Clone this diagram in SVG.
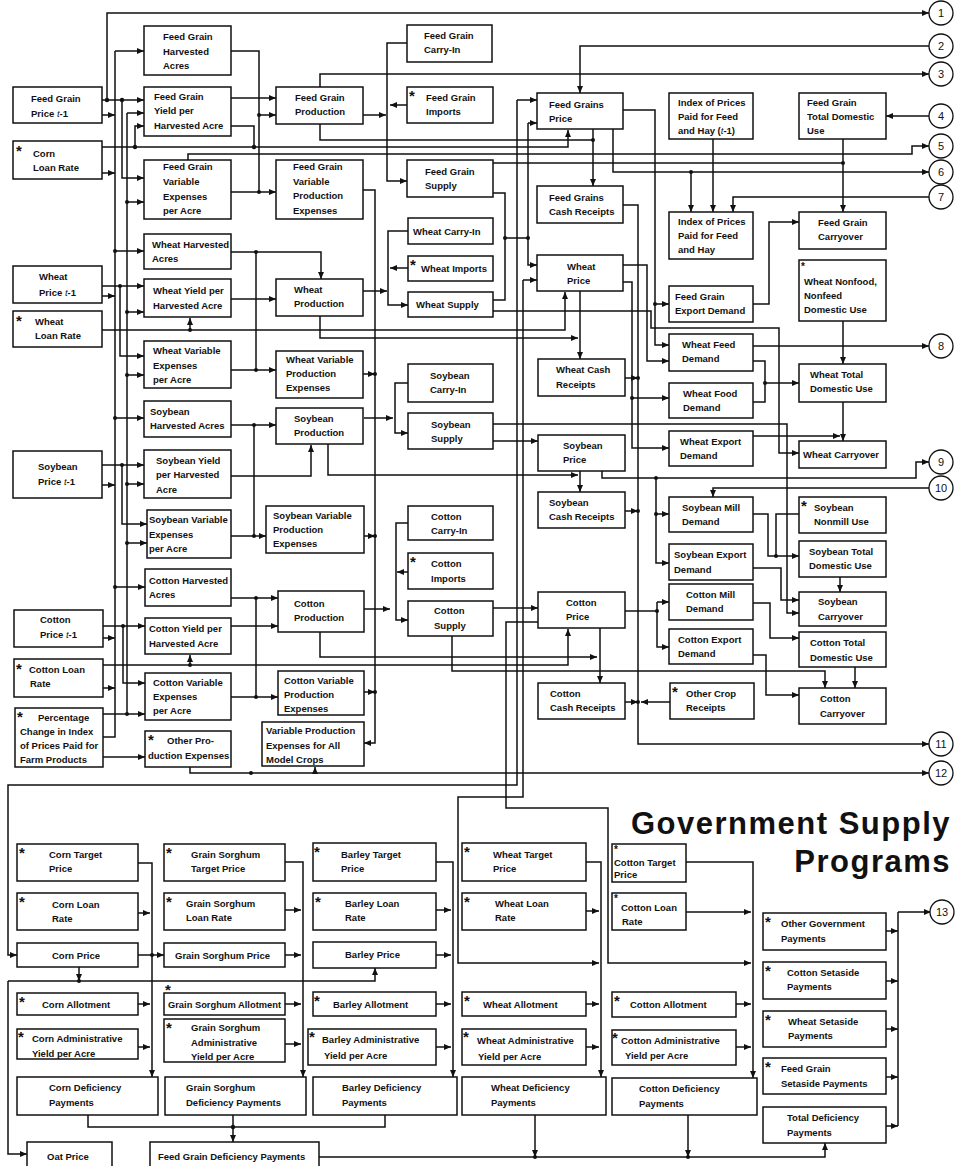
<svg xmlns="http://www.w3.org/2000/svg" width="955" height="1166" viewBox="0 0 955 1166">
<style>
.b{fill:#fff;stroke:#111;stroke-width:1.5}
.t{font-family:"Liberation Sans",Arial,sans-serif;font-weight:bold;font-size:9.5px;fill:#111}
.s{font-family:"Liberation Sans",Arial,sans-serif;font-weight:bold;font-size:15px;fill:#111}
.s2{font-family:"Liberation Sans",Arial,sans-serif;font-weight:bold;font-size:10px;fill:#111}
.c{fill:none;stroke:#111;stroke-width:1.5}
.a{marker-end:url(#ah)}
.d{fill:#111}
.k{fill:#fff;stroke:#111;stroke-width:1.3}
.kn{font-family:"Liberation Sans",Arial,sans-serif;font-size:11px;fill:#111;text-anchor:middle}
.h{font-family:"Liberation Sans",Arial,sans-serif;font-weight:bold;font-size:31px;fill:#111;text-anchor:end;letter-spacing:1.5px}
.i{font-style:italic;font-weight:normal}
</style>
<defs>
<marker id="ah" markerWidth="7" markerHeight="6" refX="7" refY="3" orient="auto" markerUnits="userSpaceOnUse"><path d="M0,0 L7,3 L0,6 z" fill="#111"/></marker>
</defs>
<rect width="955" height="1166" fill="#fff"/>

<g id="connectors">
<path class="c a" d="M107,100 V13 H929"/>
<path class="c a" d="M102,100 H144"/>
<path class="c a" d="M102,115 H115"/>
<path class="c" d="M115,51 V737 H103"/>
<path class="c a" d="M115,51 H144"/>
<path class="c a" d="M115,251 H144"/>
<path class="c a" d="M115,418 H144"/>
<path class="c a" d="M115,587 H145"/>
<path class="c a" d="M122,100 V178 H144"/>
<path class="c" d="M127,113 V714"/>
<path class="c a" d="M127,113 H144"/>
<path class="c a" d="M127,202 H144"/>
<path class="c a" d="M127,312 H144"/>
<path class="c a" d="M127,375 H144"/>
<path class="c a" d="M127,484 H144"/>
<path class="c a" d="M127,543 H147"/>
<path class="c a" d="M103,714 H145"/>
<path class="c a" d="M135,147 V126 H144"/>
<path class="c a" d="M102,147 H568 V130"/>
<path class="c a" d="M102,173 H115"/>
<path class="c" d="M231,51 H259 V192"/>
<path class="c a" d="M259,115 H276"/>
<path class="c a" d="M231,192 H276"/>
<path class="c a" d="M231,98 H276"/>
<path class="c" d="M231,126 H254 V147"/>
<path class="c a" d="M188,160 V154 H912 V146 H929"/>
<path class="c a" d="M102,286 H144"/>
<path class="c a" d="M120,286 V356 H144"/>
<path class="c a" d="M102,296 H115"/>
<path class="c a" d="M102,330 H565 V292"/>
<path class="c a" d="M190,330 V318"/>
<path class="c a" d="M231,252 H321 V279"/>
<path class="c" d="M256,252 V370"/>
<path class="c a" d="M231,370 H276"/>
<path class="c a" d="M231,299 H276"/>
<path class="c a" d="M363,291 H387"/>
<path class="c a" d="M320,316 V338 H578"/>
<path class="c a" d="M408,231 H388 V305 H408"/>
<path class="c a" d="M408,268 H390"/>
<path class="c a" d="M363,190 H375 V743 H364"/>
<path class="c a" d="M363,374 H375"/>
<path class="c a" d="M364,536 H375"/>
<path class="c a" d="M364,692 H375"/>
<path class="c a" d="M102,465 H144"/>
<path class="c a" d="M122,465 V524 H147"/>
<path class="c a" d="M102,485 H115"/>
<path class="c a" d="M231,425 H276"/>
<path class="c" d="M254,425 V536"/>
<path class="c a" d="M231,536 H266"/>
<path class="c a" d="M231,476 H311 V445"/>
<path class="c a" d="M364,418 H393"/>
<path class="c a" d="M408,383 H395 V433 H408"/>
<path class="c a" d="M328,444 V475 H578"/>
<path class="c a" d="M493,441 H538"/>
<path class="c a" d="M580,471 V492"/>
<path class="c a" d="M103,626 H145"/>
<path class="c a" d="M123,626 V683 H145"/>
<path class="c a" d="M103,638 H115"/>
<path class="c a" d="M103,665 H568 V629"/>
<path class="c a" d="M190,665 V655"/>
<path class="c a" d="M103,688 H115"/>
<path class="c a" d="M231,598 H278"/>
<path class="c" d="M256,598 V697"/>
<path class="c a" d="M231,697 H278"/>
<path class="c a" d="M231,626 H278"/>
<path class="c a" d="M364,609 H390"/>
<path class="c a" d="M408,523 H396 V620 H408"/>
<path class="c a" d="M408,572 H397"/>
<path class="c a" d="M320,632 V657 H597"/>
<path class="c a" d="M452,636 V671 H825 V688"/>
<path class="c a" d="M493,608 H538"/>
<path class="c a" d="M600,628 V683"/>
<path class="c a" d="M103,757 H145"/>
<path class="c a" d="M190,767 V773 H929"/>
<path class="c a" d="M315,773 V767"/>
<path class="c" d="M625,611 H657"/>
<path class="c a" d="M657,602 V647 H669"/>
<path class="c a" d="M657,602 H669"/>
<path class="c a" d="M753,603 H770 V638 H799"/>
<path class="c a" d="M753,655 H766 V695 H799"/>
<path class="c a" d="M855,667 V688"/>
<path class="c a" d="M623,205 H638 V744 H929"/>
<path class="c a" d="M625,378 H638"/>
<path class="c a" d="M625,511 H638"/>
<path class="c a" d="M625,702 H638"/>
<path class="c a" d="M670,702 H641"/>
<path class="c a" d="M408,43 H387 V181 H407"/>
<path class="c a" d="M407,105 H390"/>
<path class="c a" d="M363,115 H386"/>
<path class="c a" d="M320,87 V74 H929"/>
<path class="c" d="M320,124 V140 H593"/>
<path class="c a" d="M593,129 V186"/>
<path class="c a" d="M929,46 H580 V93"/>
<path class="c a" d="M623,110 H655 V345 H669"/>
<path class="c a" d="M655,304 H669"/>
<path class="c a" d="M613,129 V172 H929"/>
<path class="c a" d="M691,172 V212"/>
<path class="c a" d="M713,139 V212"/>
<path class="c a" d="M929,197 H733 V212"/>
<path class="c a" d="M929,116 H886"/>
<path class="c a" d="M843,139 V212"/>
<path class="c" d="M493,163 H843"/>
<path class="c a" d="M753,304 H769 V222 H799"/>
<path class="c" d="M493,193 H505 V300 H493"/>
<path class="c" d="M505,238 H528 V123"/>
<path class="c a" d="M528,123 H537"/>
<path class="c a" d="M528,238 V265 H537"/>
<path class="c a" d="M517,100 H537"/>
<path class="c a" d="M517,100 V785 H8 V955 H17"/>
<path class="c a" d="M523,280 H537"/>
<path class="c a" d="M523,280 V797 H458 V963 H599"/>
<path class="c a" d="M538,622 H506 V808 H608 V963 H751"/>
<path class="c a" d="M623,265 H647 V361 H669"/>
<path class="c a" d="M623,282 H632 V448 H669"/>
<path class="c a" d="M632,398 H669"/>
<path class="c a" d="M580,291 V359"/>
<path class="c a" d="M493,311 H651 V328 H779 V453 H799"/>
<path class="c a" d="M753,346 H929"/>
<path class="c" d="M753,361 H765 V402 H753"/>
<path class="c a" d="M765,383 H799"/>
<path class="c a" d="M843,321 V364"/>
<path class="c a" d="M843,402 V441"/>
<path class="c a" d="M753,436 H840"/>
<path class="c a" d="M493,424 H787 V613 H799"/>
<path class="c a" d="M602,471 V478 H916 V462 H929"/>
<path class="c a" d="M656,478 V563 H669"/>
<path class="c a" d="M656,514 H669"/>
<path class="c a" d="M929,488 H713 V497"/>
<path class="c a" d="M753,514 H768 V556 H799"/>
<path class="c" d="M799,514 H776 V556"/>
<path class="c a" d="M753,568 H781 V600 H799"/>
<path class="c a" d="M840,577 V592"/>
<path class="c a" d="M138,863 H152 V1077"/>
<path class="c a" d="M138,913 H150"/>
<path class="c a" d="M138,955 H164"/>
<path class="c a" d="M138,1004 H150"/>
<path class="c a" d="M138,1047 H150"/>
<path class="c a" d="M285,862 H303 V1077"/>
<path class="c a" d="M285,910 H301"/>
<path class="c a" d="M285,955 H301"/>
<path class="c a" d="M285,1004 H301"/>
<path class="c a" d="M285,1044 H301"/>
<path class="c a" d="M436,862 H453 V1077"/>
<path class="c a" d="M436,910 H451"/>
<path class="c a" d="M436,955 H451"/>
<path class="c a" d="M436,1004 H451"/>
<path class="c a" d="M436,1047 H451"/>
<path class="c a" d="M586,862 H601 V1077"/>
<path class="c a" d="M586,911 H599"/>
<path class="c a" d="M586,1004 H599"/>
<path class="c a" d="M586,1047 H599"/>
<path class="c a" d="M686,862 H753 V1078"/>
<path class="c a" d="M686,912 H751"/>
<path class="c a" d="M736,1004 H751"/>
<path class="c a" d="M736,1047 H751"/>
<path class="c a" d="M79,967 V981"/>
<path class="c a" d="M8,981 H375 V968"/>
<path class="c a" d="M8,981 V1154 H27"/>
<path class="c" d="M88,1115 V1127 H385 V1115"/>
<path class="c a" d="M233,1115 V1142"/>
<path class="c a" d="M319,1157 H825 V1143"/>
<path class="c a" d="M535,1115 V1157"/>
<path class="c a" d="M688,1115 V1157"/>
<path class="c" d="M898,912 V1126"/>
<path class="c a" d="M898,912 H931"/>
<path class="c a" d="M886,931 H898"/>
<path class="c a" d="M886,981 H898"/>
<path class="c a" d="M886,1029 H898"/>
<path class="c a" d="M886,1077 H898"/>
<path class="c a" d="M886,1126 H898"/>
<g class="d">
<circle cx="107" cy="100" r="2.2"/><circle cx="122" cy="100" r="2.2"/><circle cx="115" cy="251" r="2"/><circle cx="115" cy="418" r="2"/><circle cx="115" cy="587" r="2"/>
<circle cx="127" cy="202" r="2"/><circle cx="127" cy="312" r="2"/><circle cx="127" cy="375" r="2"/><circle cx="127" cy="484" r="2"/><circle cx="127" cy="543" r="2"/><circle cx="127" cy="714" r="2"/>
<circle cx="135" cy="147" r="2.2"/><circle cx="259" cy="115" r="2"/><circle cx="259" cy="192" r="2"/><circle cx="254" cy="147" r="2.2"/>
<circle cx="120" cy="286" r="2"/><circle cx="190" cy="330" r="2"/><circle cx="256" cy="252" r="2"/><circle cx="256" cy="370" r="2"/>
<circle cx="375" cy="374" r="2"/><circle cx="375" cy="536" r="2"/><circle cx="375" cy="692" r="2"/>
<circle cx="122" cy="465" r="2"/><circle cx="254" cy="425" r="2"/><circle cx="254" cy="536" r="2"/>
<circle cx="123" cy="626" r="2"/><circle cx="190" cy="665" r="2"/><circle cx="256" cy="598" r="2"/><circle cx="256" cy="697" r="2"/>
<circle cx="251" cy="773" r="2"/><circle cx="657" cy="611" r="2"/><circle cx="638" cy="702" r="2"/><circle cx="638" cy="378" r="2"/><circle cx="638" cy="511" r="2"/>
<circle cx="593" cy="140" r="2"/><circle cx="691" cy="172" r="2"/><circle cx="843" cy="163" r="2"/><circle cx="655" cy="304" r="2"/>
<circle cx="505" cy="238" r="2"/><circle cx="528" cy="238" r="2"/><circle cx="632" cy="398" r="2"/><circle cx="765" cy="383" r="2"/>
<circle cx="656" cy="478" r="2"/><circle cx="656" cy="514" r="2"/><circle cx="776" cy="556" r="2"/>
<circle cx="152" cy="955" r="2"/><circle cx="79" cy="981" r="2"/><circle cx="233" cy="1127" r="2.2"/><circle cx="535" cy="1157" r="2"/><circle cx="688" cy="1157" r="2"/>
</g>
</g>

<g id="circles">
<g id="k1"><circle class="k" cx="941" cy="13" r="12"/><text class="kn" x="941" y="17">1</text></g>
<g id="k2"><circle class="k" cx="941" cy="46" r="12"/><text class="kn" x="941" y="50">2</text></g>
<g id="k3"><circle class="k" cx="941" cy="74" r="12"/><text class="kn" x="941" y="78">3</text></g>
<g id="k4"><circle class="k" cx="941" cy="116" r="12"/><text class="kn" x="941" y="120">4</text></g>
<g id="k5"><circle class="k" cx="941" cy="146" r="12"/><text class="kn" x="941" y="150">5</text></g>
<g id="k6"><circle class="k" cx="941" cy="172" r="12"/><text class="kn" x="941" y="176">6</text></g>
<g id="k7"><circle class="k" cx="941" cy="197" r="12"/><text class="kn" x="941" y="201">7</text></g>
<g id="k8"><circle class="k" cx="941" cy="346" r="12"/><text class="kn" x="941" y="350">8</text></g>
<g id="k9"><circle class="k" cx="941" cy="462" r="12"/><text class="kn" x="941" y="466">9</text></g>
<g id="k10"><circle class="k" cx="941" cy="488" r="12"/><text class="kn" x="941" y="492">10</text></g>
<g id="k11"><circle class="k" cx="941" cy="744" r="12"/><text class="kn" x="941" y="748">11</text></g>
<g id="k12"><circle class="k" cx="941" cy="773" r="12"/><text class="kn" x="941" y="777">12</text></g>
<g id="k13"><circle class="k" cx="942" cy="912" r="12"/><text class="kn" x="942" y="916">13</text></g>
</g>

<g id="fg-price-t1"><rect class="b" x="13" y="87" width="89" height="36"/><text class="t" x="31" y="102">Feed Grain</text><text class="t" x="31" y="117">Price <tspan class="i">t</tspan>-1</text></g>
<g id="corn-loan-rate"><rect class="b" x="13" y="141" width="89" height="38"/><text class="s" x="16" y="156">*</text><text class="t" x="33" y="157">Corn</text><text class="t" x="33" y="171">Loan Rate</text></g>
<g id="wheat-price-t1"><rect class="b" x="13" y="266" width="89" height="37"/><text class="t" x="39" y="280">Wheat</text><text class="t" x="39" y="296">Price <tspan class="i">t</tspan>-1</text></g>
<g id="wheat-loan-rate"><rect class="b" x="13" y="311" width="89" height="36"/><text class="s" x="16" y="326">*</text><text class="t" x="35" y="325">Wheat</text><text class="t" x="35" y="339">Loan Rate</text></g>
<g id="soy-price-t1"><rect class="b" x="13" y="451" width="89" height="47"/><text class="t" x="38" y="470">Soybean</text><text class="t" x="38" y="485">Price <tspan class="i">t</tspan>-1</text></g>
<g id="cotton-price-t1"><rect class="b" x="14" y="610" width="89" height="37"/><text class="t" x="40" y="623">Cotton</text><text class="t" x="40" y="638">Price <tspan class="i">t</tspan>-1</text></g>
<g id="cotton-loan-rate"><rect class="b" x="14" y="659" width="89" height="38"/><text class="s" x="16" y="674">*</text><text class="t" x="29" y="673">Cotton Loan</text><text class="t" x="30" y="687">Rate</text></g>
<g id="pct-change"><rect class="b" x="15" y="708" width="88" height="59"/><text class="s" x="17" y="722">*</text><text class="t" x="38" y="721">Percentage</text><text class="t" x="20" y="735">Change in Index</text><text class="t" x="20" y="749">of Prices Paid for</text><text class="t" x="20" y="763">Farm Products</text></g>

<g id="fg-harv-acres"><rect class="b" x="144" y="26" width="87" height="49"/><text class="t" x="163" y="40">Feed Grain</text><text class="t" x="163" y="55">Harvested</text><text class="t" x="163" y="69">Acres</text></g>
<g id="fg-yield"><rect class="b" x="144" y="87" width="87" height="49"/><text class="t" x="154" y="100">Feed Grain</text><text class="t" x="154" y="114">Yield per</text><text class="t" x="154" y="129">Harvested Acre</text></g>
<g id="fg-var-exp"><rect class="b" x="144" y="160" width="87" height="59"/><text class="t" x="163" y="170">Feed Grain</text><text class="t" x="163" y="185">Variable</text><text class="t" x="163" y="200">Expenses</text><text class="t" x="163" y="214">per Acre</text></g>
<g id="wheat-harv-acres"><rect class="b" x="144" y="234" width="87" height="35"/><text class="t" x="152" y="248">Wheat Harvested</text><text class="t" x="152" y="262">Acres</text></g>
<g id="wheat-yield"><rect class="b" x="144" y="279" width="87" height="38"/><text class="t" x="153" y="294">Wheat Yield per</text><text class="t" x="153" y="309">Harvested Acre</text></g>
<g id="wheat-var-exp"><rect class="b" x="144" y="341" width="87" height="47"/><text class="t" x="153" y="354">Wheat Variable</text><text class="t" x="153" y="369">Expenses</text><text class="t" x="153" y="383">per Acre</text></g>
<g id="soy-harv-acres"><rect class="b" x="144" y="401" width="87" height="36"/><text class="t" x="150" y="415">Soybean</text><text class="t" x="150" y="429">Harvested Acres</text></g>
<g id="soy-yield"><rect class="b" x="144" y="450" width="87" height="48"/><text class="t" x="156" y="464">Soybean Yield</text><text class="t" x="156" y="478">per Harvested</text><text class="t" x="156" y="493">Acre</text></g>
<g id="soy-var-exp"><rect class="b" x="147" y="510" width="84" height="48"/><text class="t" x="149" y="523">Soybean Variable</text><text class="t" x="149" y="538">Expenses</text><text class="t" x="149" y="552">per Acre</text></g>
<g id="cotton-harv-acres"><rect class="b" x="145" y="569" width="86" height="37"/><text class="t" x="149" y="584">Cotton Harvested</text><text class="t" x="149" y="598">Acres</text></g>
<g id="cotton-yield"><rect class="b" x="145" y="618" width="86" height="36"/><text class="t" x="149" y="632">Cotton Yield per</text><text class="t" x="149" y="647">Harvested Acre</text></g>
<g id="cotton-var-exp"><rect class="b" x="145" y="673" width="86" height="47"/><text class="t" x="153" y="686">Cotton Variable</text><text class="t" x="153" y="700">Expenses</text><text class="t" x="153" y="714">per Acre</text></g>
<g id="other-prod-exp"><rect class="b" x="145" y="731" width="86" height="36"/><text class="s" x="148" y="745">*</text><text class="t" x="167" y="744">Other Pro-</text><text class="t" x="148" y="759">duction Expenses</text></g>

<g id="fg-production"><rect class="b" x="276" y="87" width="87" height="37"/><text class="t" x="295" y="101">Feed Grain</text><text class="t" x="295" y="115">Production</text></g>
<g id="fg-var-prod-exp"><rect class="b" x="276" y="160" width="87" height="59"/><text class="t" x="293" y="170">Feed Grain</text><text class="t" x="293" y="185">Variable</text><text class="t" x="293" y="199">Production</text><text class="t" x="293" y="214">Expenses</text></g>
<g id="wheat-production"><rect class="b" x="276" y="279" width="87" height="37"/><text class="t" x="294" y="293">Wheat</text><text class="t" x="294" y="307">Production</text></g>
<g id="wheat-var-prod-exp"><rect class="b" x="276" y="351" width="87" height="47"/><text class="t" x="286" y="363">Wheat Variable</text><text class="t" x="286" y="377">Production</text><text class="t" x="286" y="391">Expenses</text></g>
<g id="soy-production"><rect class="b" x="276" y="408" width="87" height="36"/><text class="t" x="294" y="422">Soybean</text><text class="t" x="294" y="436">Production</text></g>
<g id="soy-var-prod-exp"><rect class="b" x="266" y="506" width="98" height="47"/><text class="t" x="273" y="519">Soybean Variable</text><text class="t" x="273" y="533">Production</text><text class="t" x="273" y="547">Expenses</text></g>
<g id="cotton-production"><rect class="b" x="278" y="591" width="86" height="41"/><text class="t" x="294" y="607">Cotton</text><text class="t" x="294" y="621">Production</text></g>
<g id="cotton-var-prod-exp"><rect class="b" x="278" y="671" width="86" height="44"/><text class="t" x="284" y="684">Cotton Variable</text><text class="t" x="284" y="698">Production</text><text class="t" x="284" y="712">Expenses</text></g>
<g id="var-prod-exp-all"><rect class="b" x="262" y="722" width="102" height="44"/><text class="t" x="266" y="734">Variable Production</text><text class="t" x="266" y="749">Expenses for All</text><text class="t" x="266" y="763">Model Crops</text></g>

<g id="fg-carry-in"><rect class="b" x="407" y="25" width="85" height="37"/><text class="t" x="424" y="39">Feed Grain</text><text class="t" x="424" y="53">Carry-In</text></g>
<g id="fg-imports"><rect class="b" x="407" y="87" width="86" height="36"/><text class="s" x="409" y="101">*</text><text class="t" x="426" y="101">Feed Grain</text><text class="t" x="426" y="115">Imports</text></g>
<g id="fg-supply"><rect class="b" x="407" y="160" width="86" height="37"/><text class="t" x="425" y="175">Feed Grain</text><text class="t" x="425" y="189">Supply</text></g>
<g id="wheat-carry-in"><rect class="b" x="408" y="218" width="85" height="26"/><text class="t" x="413" y="235">Wheat Carry-In</text></g>
<g id="wheat-imports"><rect class="b" x="408" y="256" width="85" height="25"/><text class="s" x="410" y="270">*</text><text class="t" x="421" y="272">Wheat Imports</text></g>
<g id="wheat-supply"><rect class="b" x="408" y="292" width="85" height="25"/><text class="t" x="416" y="308">Wheat Supply</text></g>
<g id="soy-carry-in"><rect class="b" x="408" y="364" width="85" height="38"/><text class="t" x="430" y="379">Soybean</text><text class="t" x="430" y="393">Carry-In</text></g>
<g id="soy-supply"><rect class="b" x="408" y="413" width="85" height="36"/><text class="t" x="431" y="428">Soybean</text><text class="t" x="431" y="442">Supply</text></g>
<g id="cotton-carry-in"><rect class="b" x="408" y="506" width="85" height="34"/><text class="t" x="431" y="520">Cotton</text><text class="t" x="431" y="534">Carry-In</text></g>
<g id="cotton-imports"><rect class="b" x="408" y="553" width="85" height="36"/><text class="s" x="410" y="567">*</text><text class="t" x="431" y="567">Cotton</text><text class="t" x="431" y="582">Imports</text></g>
<g id="cotton-supply"><rect class="b" x="408" y="601" width="85" height="35"/><text class="t" x="434" y="614">Cotton</text><text class="t" x="434" y="629">Supply</text></g>

<g id="fg-price"><rect class="b" x="537" y="93" width="86" height="36"/><text class="t" x="549" y="108">Feed Grains</text><text class="t" x="549" y="122">Price</text></g>
<g id="fg-cash-receipts"><rect class="b" x="537" y="186" width="86" height="37"/><text class="t" x="549" y="201">Feed Grains</text><text class="t" x="549" y="215">Cash Receipts</text></g>
<g id="wheat-price"><rect class="b" x="537" y="255" width="86" height="36"/><text class="t" x="567" y="270">Wheat</text><text class="t" x="567" y="284">Price</text></g>
<g id="wheat-cash-receipts"><rect class="b" x="538" y="359" width="87" height="37"/><text class="t" x="556" y="373">Wheat Cash</text><text class="t" x="556" y="388">Receipts</text></g>
<g id="soy-price"><rect class="b" x="538" y="435" width="87" height="36"/><text class="t" x="563" y="449">Soybean</text><text class="t" x="563" y="463">Price</text></g>
<g id="soy-cash-receipts"><rect class="b" x="538" y="492" width="87" height="36"/><text class="t" x="549" y="506">Soybean</text><text class="t" x="549" y="520">Cash Receipts</text></g>
<g id="cotton-price"><rect class="b" x="538" y="592" width="87" height="36"/><text class="t" x="566" y="606">Cotton</text><text class="t" x="566" y="620">Price</text></g>
<g id="cotton-cash-receipts"><rect class="b" x="538" y="683" width="87" height="36"/><text class="t" x="550" y="697">Cotton</text><text class="t" x="550" y="711">Cash Receipts</text></g>

<g id="index-t1"><rect class="b" x="669" y="93" width="84" height="46"/><text class="t" x="678" y="106">Index of Prices</text><text class="t" x="678" y="120">Paid for Feed</text><text class="t" x="678" y="134">and Hay (<tspan class="i">t</tspan>-1)</text></g>
<g id="index"><rect class="b" x="669" y="212" width="84" height="47"/><text class="t" x="678" y="225">Index of Prices</text><text class="t" x="678" y="239">Paid for Feed</text><text class="t" x="678" y="253">and Hay</text></g>
<g id="fg-export-demand"><rect class="b" x="669" y="286" width="84" height="36"/><text class="t" x="675" y="300">Feed Grain</text><text class="t" x="675" y="314">Export Demand</text></g>
<g id="wheat-feed-demand"><rect class="b" x="669" y="334" width="84" height="37"/><text class="t" x="682" y="348">Wheat Feed</text><text class="t" x="682" y="362">Demand</text></g>
<g id="wheat-food-demand"><rect class="b" x="669" y="383" width="84" height="35"/><text class="t" x="683" y="397">Wheat Food</text><text class="t" x="683" y="411">Demand</text></g>
<g id="wheat-export-demand"><rect class="b" x="669" y="431" width="84" height="35"/><text class="t" x="680" y="445">Wheat Export</text><text class="t" x="680" y="459">Demand</text></g>
<g id="soy-mill-demand"><rect class="b" x="669" y="497" width="84" height="35"/><text class="t" x="682" y="511">Soybean Mill</text><text class="t" x="682" y="525">Demand</text></g>
<g id="soy-export-demand"><rect class="b" x="669" y="544" width="84" height="36"/><text class="t" x="674" y="558">Soybean Export</text><text class="t" x="674" y="573">Demand</text></g>
<g id="cotton-mill-demand"><rect class="b" x="669" y="584" width="84" height="36"/><text class="t" x="686" y="598">Cotton Mill</text><text class="t" x="686" y="612">Demand</text></g>
<g id="cotton-export-demand"><rect class="b" x="669" y="629" width="84" height="35"/><text class="t" x="678" y="643">Cotton Export</text><text class="t" x="678" y="657">Demand</text></g>
<g id="other-crop-receipts"><rect class="b" x="670" y="683" width="84" height="36"/><text class="s" x="672" y="697">*</text><text class="t" x="686" y="697">Other Crop</text><text class="t" x="686" y="711">Receipts</text></g>

<g id="fg-total-dom-use"><rect class="b" x="799" y="93" width="87" height="46"/><text class="t" x="807" y="106">Feed Grain</text><text class="t" x="807" y="120">Total Domestic</text><text class="t" x="807" y="134">Use</text></g>
<g id="fg-carryover"><rect class="b" x="799" y="212" width="87" height="37"/><text class="t" x="818" y="226">Feed Grain</text><text class="t" x="818" y="240">Carryover</text></g>
<g id="wheat-nonfood"><rect class="b" x="799" y="260" width="87" height="61"/><text class="s2" x="801" y="270">*</text><text class="t" x="804" y="285">Wheat Nonfood,</text><text class="t" x="804" y="299">Nonfeed</text><text class="t" x="804" y="313">Domestic Use</text></g>
<g id="wheat-total-dom-use"><rect class="b" x="799" y="364" width="87" height="38"/><text class="t" x="810" y="378">Wheat Total</text><text class="t" x="810" y="392">Domestic Use</text></g>
<g id="wheat-carryover"><rect class="b" x="799" y="441" width="87" height="27"/><text class="t" x="803" y="458">Wheat Carryover</text></g>
<g id="soy-nonmill"><rect class="b" x="799" y="497" width="87" height="36"/><text class="s" x="801" y="511">*</text><text class="t" x="814" y="511">Soybean</text><text class="t" x="814" y="525">Nonmill Use</text></g>
<g id="soy-total-dom-use"><rect class="b" x="799" y="541" width="87" height="36"/><text class="t" x="809" y="555">Soybean Total</text><text class="t" x="809" y="569">Domestic Use</text></g>
<g id="soy-carryover"><rect class="b" x="799" y="592" width="87" height="34"/><text class="t" x="818" y="605">Soybean</text><text class="t" x="818" y="620">Carryover</text></g>
<g id="cotton-total-dom-use"><rect class="b" x="799" y="632" width="87" height="35"/><text class="t" x="810" y="646">Cotton Total</text><text class="t" x="810" y="661">Domestic Use</text></g>
<g id="cotton-carryover"><rect class="b" x="799" y="688" width="87" height="36"/><text class="t" x="820" y="702">Cotton</text><text class="t" x="820" y="717">Carryover</text></g>

<text class="h" x="951" y="834">Government Supply</text>
<text class="h" x="951" y="872">Programs</text>

<g id="corn-target"><rect class="b" x="17" y="844" width="121" height="37"/><text class="s" x="19" y="858">*</text><text class="t" x="49" y="858">Corn Target</text><text class="t" x="49" y="872">Price</text></g>
<g id="corn-loan"><rect class="b" x="17" y="893" width="121" height="37"/><text class="s" x="19" y="907">*</text><text class="t" x="52" y="908">Corn Loan</text><text class="t" x="52" y="922">Rate</text></g>
<g id="corn-price"><rect class="b" x="17" y="943" width="121" height="24"/><text class="t" x="52" y="959">Corn Price</text></g>
<g id="corn-allot"><rect class="b" x="17" y="993" width="121" height="22"/><text class="s" x="19" y="1007">*</text><text class="t" x="42" y="1008">Corn Allotment</text></g>
<g id="corn-admin"><rect class="b" x="17" y="1029" width="121" height="30"/><text class="s" x="18" y="1042">*</text><text class="t" x="32" y="1042">Corn Administrative</text><text class="t" x="32" y="1057">Yield per Acre</text></g>
<g id="corn-def"><rect class="b" x="17" y="1077" width="141" height="38"/><text class="t" x="49" y="1091">Corn Deficiency</text><text class="t" x="49" y="1106">Payments</text></g>
<g id="oat-price"><rect class="b" x="27" y="1142" width="85" height="30"/><text class="t" x="47" y="1160">Oat Price</text></g>
<g id="fg-def"><rect class="b" x="150" y="1142" width="169" height="30"/><text class="t" x="158" y="1160">Feed Grain Deficiency Payments</text></g>

<g id="gs-target"><rect class="b" x="164" y="844" width="121" height="37"/><text class="s" x="166" y="858">*</text><text class="t" x="191" y="858">Grain Sorghum</text><text class="t" x="191" y="872">Target Price</text></g>
<g id="gs-loan"><rect class="b" x="164" y="893" width="121" height="37"/><text class="s" x="166" y="907">*</text><text class="t" x="186" y="907">Grain Sorghum</text><text class="t" x="186" y="921">Loan Rate</text></g>
<g id="gs-price"><rect class="b" x="164" y="943" width="121" height="24"/><text class="t" x="175" y="959">Grain Sorghum  Price</text></g>
<g id="gs-allot"><rect class="b" x="164" y="993" width="121" height="22"/><text class="s" x="165" y="995">*</text><text class="t" x="168" y="1008" textLength="113" lengthAdjust="spacingAndGlyphs">Grain Sorghum Allotment</text></g>
<g id="gs-admin"><rect class="b" x="164" y="1019" width="121" height="43"/><text class="s" x="166" y="1033">*</text><text class="t" x="191" y="1031">Grain Sorghum</text><text class="t" x="191" y="1046">Administrative</text><text class="t" x="191" y="1060">Yield per Acre</text></g>
<g id="gs-def"><rect class="b" x="165" y="1077" width="141" height="38"/><text class="t" x="186" y="1091">Grain Sorghum</text><text class="t" x="186" y="1106">Deficiency Payments</text></g>

<g id="barley-target"><rect class="b" x="313" y="843" width="123" height="38"/><text class="s" x="314" y="857">*</text><text class="t" x="341" y="858">Barley Target</text><text class="t" x="341" y="872">Price</text></g>
<g id="barley-loan"><rect class="b" x="313" y="893" width="123" height="37"/><text class="s" x="315" y="907">*</text><text class="t" x="345" y="907">Barley Loan</text><text class="t" x="345" y="921">Rate</text></g>
<g id="barley-price"><rect class="b" x="313" y="942" width="123" height="26"/><text class="t" x="345" y="958">Barley Price</text></g>
<g id="barley-allot"><rect class="b" x="313" y="992" width="123" height="24"/><text class="s" x="314" y="1006">*</text><text class="t" x="333" y="1008">Barley Allotment</text></g>
<g id="barley-admin"><rect class="b" x="308" y="1029" width="128" height="36"/><text class="s" x="309" y="1042">*</text><text class="t" x="322" y="1043">Barley Administrative</text><text class="t" x="324" y="1059">Yield per Acre</text></g>
<g id="barley-def"><rect class="b" x="313" y="1077" width="144" height="38"/><text class="t" x="342" y="1091">Barley Deficiency</text><text class="t" x="342" y="1106">Payments</text></g>

<g id="wheat-target"><rect class="b" x="462" y="843" width="124" height="38"/><text class="s" x="464" y="857">*</text><text class="t" x="493" y="858">Wheat Target</text><text class="t" x="493" y="872">Price</text></g>
<g id="wheat-loan"><rect class="b" x="462" y="893" width="124" height="37"/><text class="s" x="464" y="907">*</text><text class="t" x="495" y="907">Wheat Loan</text><text class="t" x="495" y="921">Rate</text></g>
<g id="wheat-allot"><rect class="b" x="462" y="992" width="124" height="24"/><text class="s" x="464" y="1006">*</text><text class="t" x="483" y="1008">Wheat  Allotment</text></g>
<g id="wheat-admin"><rect class="b" x="462" y="1029" width="124" height="36"/><text class="s" x="463" y="1042">*</text><text class="t" x="477" y="1044">Wheat Administrative</text><text class="t" x="478" y="1060">Yield per Acre</text></g>
<g id="wheat-def"><rect class="b" x="462" y="1077" width="144" height="38"/><text class="t" x="491" y="1091">Wheat Deficiency</text><text class="t" x="491" y="1106">Payments</text></g>

<g id="cotton-target"><rect class="b" x="612" y="844" width="74" height="38"/><text class="s2" x="614" y="853">*</text><text class="t" x="614" y="866">Cotton Target</text><text class="t" x="614" y="878">Price</text></g>
<g id="cotton-loan"><rect class="b" x="612" y="893" width="74" height="37"/><text class="s2" x="614" y="902">*</text><text class="t" x="621" y="911">Cotton Loan</text><text class="t" x="622" y="925">Rate</text></g>
<g id="cotton-allot"><rect class="b" x="612" y="992" width="124" height="25"/><text class="s" x="614" y="1006">*</text><text class="t" x="630" y="1008">Cotton  Allotment</text></g>
<g id="cotton-admin"><rect class="b" x="612" y="1030" width="124" height="35"/><text class="s" x="612" y="1043">*</text><text class="t" x="621" y="1044">Cotton Administrative</text><text class="t" x="625" y="1059">Yield per Acre</text></g>
<g id="cotton-def"><rect class="b" x="612" y="1078" width="145" height="37"/><text class="t" x="639" y="1092">Cotton Deficiency</text><text class="t" x="639" y="1107">Payments</text></g>

<g id="other-gov"><rect class="b" x="763" y="913" width="123" height="37"/><text class="s" x="765" y="927">*</text><text class="t" x="781" y="927">Other Government</text><text class="t" x="781" y="942">Payments</text></g>
<g id="cotton-setaside"><rect class="b" x="763" y="962" width="123" height="37"/><text class="s" x="765" y="976">*</text><text class="t" x="787" y="976">Cotton Setaside</text><text class="t" x="787" y="990">Payments</text></g>
<g id="wheat-setaside"><rect class="b" x="763" y="1011" width="123" height="36"/><text class="s" x="765" y="1025">*</text><text class="t" x="788" y="1025">Wheat Setaside</text><text class="t" x="788" y="1039">Payments</text></g>
<g id="fg-setaside"><rect class="b" x="763" y="1058" width="123" height="36"/><text class="s" x="765" y="1072">*</text><text class="t" x="781" y="1072">Feed Grain</text><text class="t" x="781" y="1087">Setaside Payments</text></g>
<g id="total-def"><rect class="b" x="763" y="1107" width="123" height="36"/><text class="t" x="787" y="1121">Total Deficiency</text><text class="t" x="787" y="1136">Payments</text></g>
</svg>
